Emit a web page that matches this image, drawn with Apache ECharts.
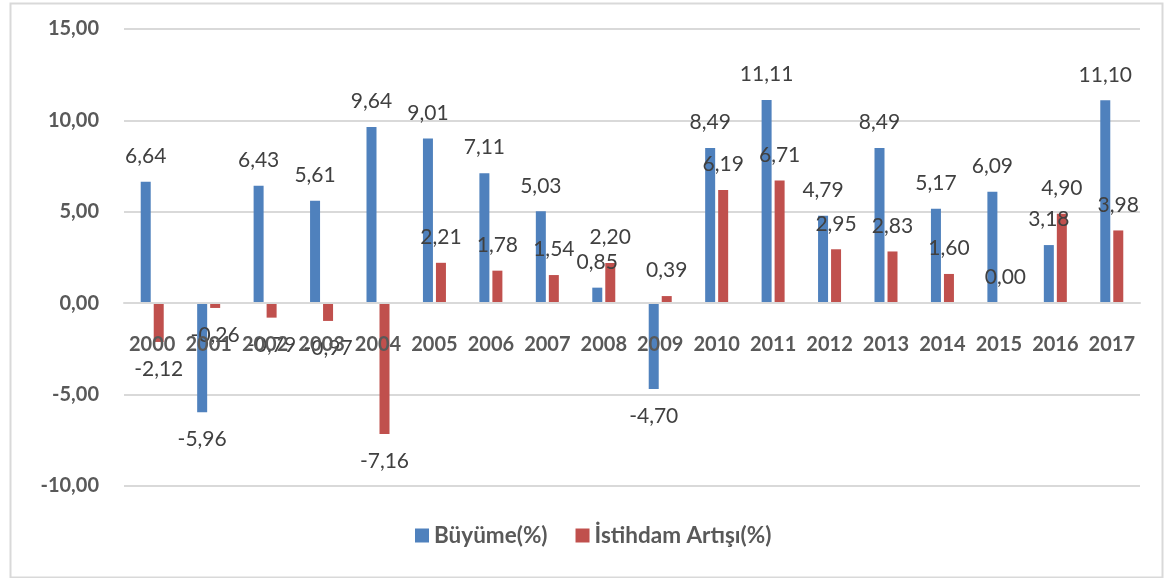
<!DOCTYPE html>
<html>
<head>
<meta charset="utf-8">
<title>Büyüme ve İstihdam Artışı</title>
<script src="https://cdn.jsdelivr.net/npm/echarts@6/dist/echarts.min.js"></script>
<style>
  html, body { margin: 0; padding: 0; background: #ffffff; }
  #chart { width: 1164px; height: 578px; }
</style>
</head>
<body>
<div id="chart"></div>
<script>
// Yıllar
const years = ['2000', '2001', '2002', '2003', '2004', '2005', '2006', '2007', '2008',
  '2009', '2010', '2011', '2012', '2013', '2014', '2015', '2016', '2017'];

// Büyüme (%)
const growth = [6.64, -5.96, 6.43, 5.61, 9.64, 9.01, 7.11, 5.03, 0.85,
  -4.70, 8.49, 11.11, 4.79, 8.49, 5.17, 6.09, 3.18, 11.10];

// İstihdam artışı (%)
const employment = [-2.12, -0.26, -0.79, -0.97, -7.16, 2.21, 1.78, 1.54, 2.20,
  0.39, 6.19, 6.71, 2.95, 2.83, 1.60, 0.00, 4.90, 3.98];

// Y ekseni
const yMin = -10, yMax = 15, yStep = 5;

const seriesNames = ['Büyüme(%)', 'İstihdam Artışı(%)'];
const seriesColors = ['#4F81BD', '#C0504D'];

const FONT = 'Lato, "Open Sans", sans-serif';
const fmt = v => Number(v).toFixed(2).replace('.', ',');

// Grafik alanı
const GRID = { left: 124, right: 24, top: 29, bottom: 92 };
const plotH = 578 - GRID.top - GRID.bottom;
// Kategori ekseni sıfır çizgisine taşınır
const zeroOffset = -plotH * (0 - yMin) / (yMax - yMin);

// Negatif değerlerin etiketi çubuğun altına yazılır
const toItems = arr => arr.map(v => ({
  value: v,
  label: v < 0 ? { position: 'bottom', distance: 17 } : { position: 'top', distance: 15 }
}));

const chart = echarts.init(document.getElementById('chart'), null, { renderer: 'canvas' });

const barLabel = {
  show: true,
  color: '#404040',
  fontFamily: FONT,
  fontSize: 21,
  formatter: p => fmt(p.value)
};

chart.setOption({
  backgroundColor: '#ffffff',
  animation: false,
  graphic: [{
    type: 'rect',
    left: 8, top: 1,
    shape: { width: 1152, height: 574 },
    style: { fill: 'none', stroke: '#D9D9D9', lineWidth: 2 },
    silent: true,
    z: -1
  }],
  grid: Object.assign({ containLabel: false }, GRID),
  legend: {
    bottom: 26,
    left: 410,
    itemWidth: 14,
    itemHeight: 14,
    itemGap: 28,
    icon: 'rect',
    formatter: name => '{b|' + name + '}',
    textStyle: {
      color: '#595959', fontFamily: FONT, fontSize: 22.5, fontWeight: 'bold',
      rich: {
        b: { color: '#595959', fontFamily: FONT, fontSize: 22.5, fontWeight: 'bold' }
      }
    },
    data: seriesNames
  },
  xAxis: {
    type: 'category',
    data: years,
    offset: zeroOffset,
    z: 5,
    axisLine: { onZero: false, lineStyle: { color: '#D9D9D9', width: 2 } },
    axisTick: { show: false },
    axisLabel: {
      color: '#595959',
      fontFamily: FONT,
      fontSize: 20,
      fontWeight: 'bold',
      margin: 31,
      interval: 0
    }
  },
  yAxis: {
    type: 'value',
    min: yMin,
    max: yMax,
    interval: yStep,
    axisLine: { show: false },
    axisTick: { show: false },
    splitLine: { lineStyle: { color: '#D9D9D9', width: 2 } },
    axisLabel: {
      color: '#595959',
      fontFamily: FONT,
      fontSize: 20,
      fontWeight: 'bold',
      margin: 25,
      formatter: v => fmt(v)
    }
  },
  series: [
    {
      name: seriesNames[0],
      type: 'bar',
      barWidth: 10,
      barGap: '30%',
      itemStyle: { color: seriesColors[0] },
      label: barLabel,
      data: toItems(growth)
    },
    {
      name: seriesNames[1],
      type: 'bar',
      barWidth: 10,
      barGap: '30%',
      itemStyle: { color: seriesColors[1] },
      label: barLabel,
      data: toItems(employment)
    }
  ]
});
</script>
</body>
</html>
